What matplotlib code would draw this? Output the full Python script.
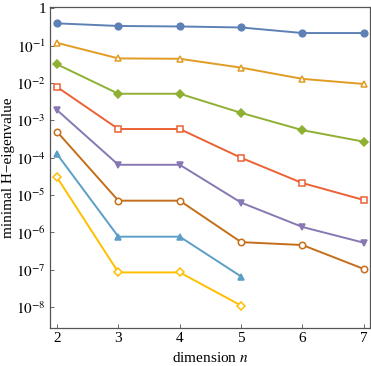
import numpy as np
import matplotlib
matplotlib.use("Agg")
import matplotlib.pyplot as plt
from matplotlib.ticker import FixedLocator

plt.rcParams['font.family'] = ['Liberation Serif', 'DejaVu Serif']
plt.rcParams['mathtext.fontset'] = 'stix'

# minimal H-eigenvalue vs dimension n (one list per series)
dims_long = [2, 3, 4, 5, 6, 7]
dims_short = [2, 3, 4, 5]

s1 = [0.40, 0.34, 0.33, 0.31, 0.22, 0.22]
s2 = [0.12, 0.046, 0.045, 0.026, 0.013, 0.0095]
s3 = [0.032, 0.0052, 0.0052, 0.0016, 5.5e-4, 2.7e-4]
s4 = [0.0079, 5.9e-4, 5.9e-4, 1.0e-4, 2.1e-5, 7.4e-6]
s5 = [1.9e-3, 6.5e-5, 6.5e-5, 6.3e-6, 1.4e-6, 5.3e-7]
s6 = [5.0e-4, 7.1e-6, 7.1e-6, 5.5e-7, 4.6e-7, 1.05e-7]
s7 = [1.26e-4, 7.7e-7, 7.7e-7, 6.6e-8]
s8 = [3.0e-5, 8.5e-8, 8.5e-8, 1.1e-8]

series = [s1, s2, s3, s4, s5, s6, s7, s8]
colors = ['#5E81B5', '#E19C24', '#8FB032', '#EB6235',
          '#8778B3', '#C56E1A', '#5D9EC7', '#FFBF00']
markers = ['o', '^', 'D', 's', 'v', 'o', '^', 'D']
filled = [True, False, True, False, True, False, True, False]
msizes = [4.8, 5.0, 4.0, 4.6, 5.0, 4.6, 5.0, 4.2]

fig = plt.figure(figsize=(3.71, 3.66), dpi=100)
ax = fig.add_axes([50/371, 1 - 328/366, 320/371, 321/366])

for vals, c, m, f, ms in zip(series, colors, markers, filled, msizes):
    xs = dims_long if len(vals) == 6 else dims_short
    ax.plot(xs, vals, color=c, lw=1.4, marker=m, ms=ms,
            mfc=c if f else 'white', mec=c, mew=1.1)

ax.set_yscale('log')
ax.set_xlim(1.886, 7.1)
ax.set_ylim(10**-8.56, 10**0.04)

yt = [10.0**k for k in range(0, -9, -1)]
ylabels = ['1'] + [r'$10^{-%d}$' % k for k in range(1, 9)]
ax.yaxis.set_major_locator(FixedLocator(yt))
ax.set_yticklabels(ylabels)
ax.yaxis.set_minor_locator(FixedLocator([]))
ax.set_xticks(dims_long)

ax.tick_params(direction='in', length=3, width=0.7, color='#666666',
               labelsize=11, pad=3)
for sp in ax.spines.values():
    sp.set_color('#555555')
    sp.set_linewidth(0.9)

ax.set_xlabel(r'dimension $n$', fontsize=11, labelpad=4)
ax.set_ylabel('minimal H\u2212eigenvalue', fontsize=11, labelpad=1)

fig.savefig('out.png', dpi=100)
